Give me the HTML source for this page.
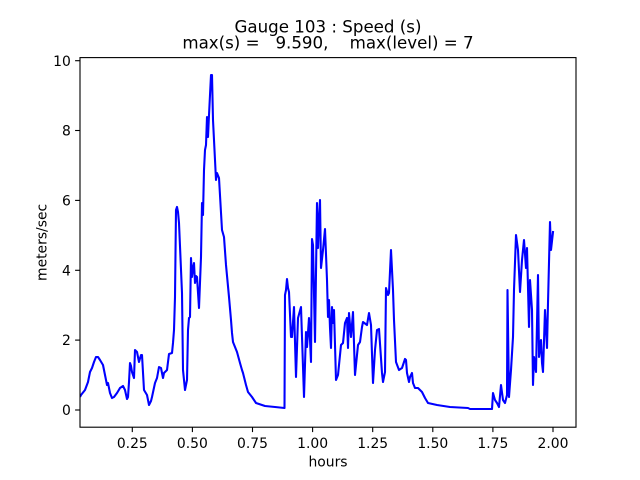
<!DOCTYPE html>
<html>
<head>
<meta charset="utf-8">
<style>
  html, body { margin: 0; padding: 0; background: #ffffff; }
  svg { display: block; }
  text { font-family: "DejaVu Sans", "Liberation Sans", sans-serif; fill: #000; }
</style>
</head>
<body>
<svg width="640" height="480" viewBox="0 0 640 480" xmlns="http://www.w3.org/2000/svg">
  <rect x="0" y="0" width="640" height="480" fill="#ffffff"/>
  <defs>
    <clipPath id="ax">
      <rect x="80" y="57.6" width="496" height="369.6"/>
    </clipPath>
  </defs>

  <!-- data line -->
  <polyline clip-path="url(#ax)" fill="none" stroke="#0000ff" stroke-width="2.08" stroke-linejoin="round" stroke-linecap="square"
    points="80.5,396 81,395 85,390 88,382 90,372 92,368 94,362 96,357 98,357 100,360 103,365 105,375 107,385 108,383 110,393 112,398 114,397 117,393 120,388 123,386 125,390 127,399 128,397 129,382 130,363 131,366 132,372 134,378 135,350 137,352 139,362 141,355 142,355 144,390 147,395 149,405 151,401 152,397 155,383 157,378 159,367 161,368 163,378 164,373 167,370 169,354 172,353 173,343 174,330 175,297 176,210 177,207 178,212 179,223 182,293 183,370 185,390 187,380 188,330 189,318 190,317 191,258 192,277 193,268 194,263 195,283 196,276 197,277 199,308 201,257 202,203 203,215 204,170 205,150 206,145 207,117 208,137 209,115 211,75 212,75 213,120 216,180 217,173 219,178 222,230 224,237 226,265 229,297 231,320 232,333 233,342 237,352 240,363 242,370 243,373 246,385 248,392 252,397 256,403 265,406 275,407 284.5,408 285,295 286,290 287,279 288,288 289,292 291,337 292,337 294,307 296,377 298,318 301,307 304,397 306,332 307,347 309,318 311,362 312,239 313,245 315,342 317,203 318,248 319,220 320,200 321,268 323,250 325,229 327,280 328,317 329,300 330,328 331,348 332,307 333,323 334,310 336,380 338,375 341,345 343,343 345,323 347,318 348,348 349,313 351,337 353,312 355,375 358,345 360,342 362,327 363,322 367,325 369,313 371,325 373,383 375,350 377,330 379,329 382,373 383,382 385,372 386,288 388,295 389,293 391,250 393,290 394,320 396,362 399,370 402,368 405,359 406,360 407,373 409,382 410,377 412,373 413,383 415,388 418,388 422,392 425,398 428,403 437,405 450,407 468,408 470,409 490,409 492,409 493,393 495,400 497,403 499,407 501,385 503,400 505,403 507,395 507.5,290 509,397 511,370 513,337 514,290 516,235 518,250 520,292 522,260 524,240 526,268 527,248 529,327 530,280 532,310 533,385 534,357 536,372 538,275 539,357 541,340 542,363 543,372 545,310 547,348 548,303 550,222 551,250 553,232"/>

  <!-- axes frame -->
  <rect x="80" y="57.6" width="496" height="369.6" fill="none" stroke="#000" stroke-width="1.11"/>

  <!-- x ticks -->
  <g stroke="#000" stroke-width="1.11">
    <line x1="132.3" y1="427.2" x2="132.3" y2="432.1"/>
    <line x1="192.4" y1="427.2" x2="192.4" y2="432.1"/>
    <line x1="252.5" y1="427.2" x2="252.5" y2="432.1"/>
    <line x1="312.6" y1="427.2" x2="312.6" y2="432.1"/>
    <line x1="372.7" y1="427.2" x2="372.7" y2="432.1"/>
    <line x1="432.8" y1="427.2" x2="432.8" y2="432.1"/>
    <line x1="492.9" y1="427.2" x2="492.9" y2="432.1"/>
    <line x1="553.0" y1="427.2" x2="553.0" y2="432.1"/>
  </g>
  <g font-size="13.9" text-anchor="middle">
    <text x="132.3" y="448">0.25</text>
    <text x="192.4" y="448">0.50</text>
    <text x="252.5" y="448">0.75</text>
    <text x="312.6" y="448">1.00</text>
    <text x="372.7" y="448">1.25</text>
    <text x="432.8" y="448">1.50</text>
    <text x="492.9" y="448">1.75</text>
    <text x="553.0" y="448">2.00</text>
  </g>

  <!-- y ticks -->
  <g stroke="#000" stroke-width="1.11">
    <line x1="75.1" y1="410" x2="80" y2="410"/>
    <line x1="75.1" y1="340.1" x2="80" y2="340.1"/>
    <line x1="75.1" y1="270.3" x2="80" y2="270.3"/>
    <line x1="75.1" y1="200.4" x2="80" y2="200.4"/>
    <line x1="75.1" y1="130.5" x2="80" y2="130.5"/>
    <line x1="75.1" y1="60.7" x2="80" y2="60.7"/>
  </g>
  <g font-size="13.9" text-anchor="end">
    <text x="70.8" y="415.1">0</text>
    <text x="70.8" y="345.2">2</text>
    <text x="70.8" y="275.4">4</text>
    <text x="70.8" y="205.5">6</text>
    <text x="70.8" y="135.6">8</text>
    <text x="70.8" y="65.8">10</text>
  </g>

  <!-- axis labels -->
  <text x="328" y="466.7" font-size="13.9" text-anchor="middle">hours</text>
  <text transform="translate(46.5,242.4) rotate(-90)" x="0" y="0" font-size="13.9" text-anchor="middle">meters/sec</text>

  <!-- title -->
  <text x="328" y="32.3" font-size="16.67" text-anchor="middle" xml:space="preserve" style="white-space:pre">Gauge 103 : Speed (s)</text>
  <text x="328" y="48.3" font-size="16.67" text-anchor="middle" xml:space="preserve" style="white-space:pre">max(s) =   9.590,    max(level) = 7</text>
</svg>
</body>
</html>
